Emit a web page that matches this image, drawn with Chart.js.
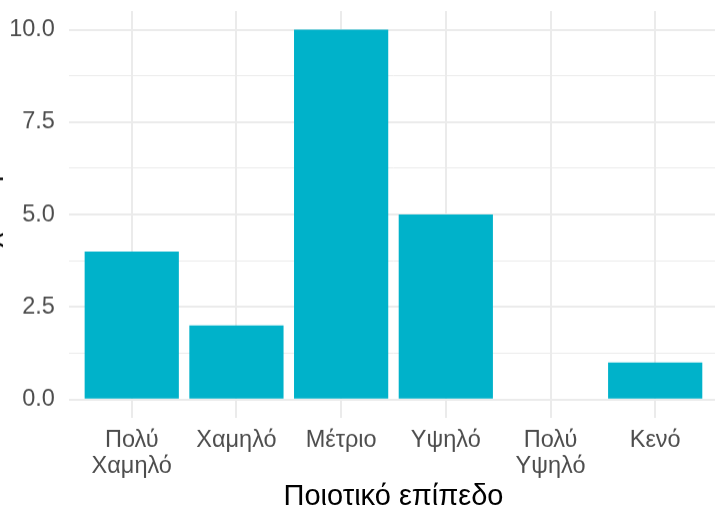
<!DOCTYPE html>
<html>
<head>
<meta charset="utf-8">
<script src="https://cdn.jsdelivr.net/npm/chart.js@4/dist/chart.umd.min.js"></script>
<style>
  html, body { margin: 0; padding: 0; background: #fff; overflow: hidden; }
  #wrap { position: absolute; left: -28px; top: -16.6px; width: 746px; height: 527.9px; }
</style>
</head>
<body>
<div id="wrap"><canvas id="qualityChart"></canvas></div>
<script>
const categories = [['Πολύ', 'Χαμηλό'], 'Χαμηλό', 'Μέτριο', 'Υψηλό', ['Πολύ', 'Υψηλό'], 'Κενό'];
const counts = [4, 2, 10, 5, 0, 1];
const yTicks = [0, 1.25, 2.5, 3.75, 5, 6.25, 7.5, 8.75, 10];

const isMajor = (v) => Math.abs(v / 2.5 - Math.round(v / 2.5)) < 1e-6;

new Chart(document.getElementById('qualityChart'), {
  type: 'bar',
  data: {
    datasets: [{
      label: 'Συχνότητα',
      data: counts.map((v, i) => ({ x: i, y: v })),
      backgroundColor: '#00b2ca',
      borderWidth: 0,
      barPercentage: 0.9,
      categoryPercentage: 1.0,
    }],
  },
  options: {
    responsive: true,
    maintainAspectRatio: false,
    animation: false,
    layout: { padding: 0 },
    plugins: { legend: { display: false }, tooltip: { enabled: false } },
    scales: {
      x: {
        type: 'linear',
        offset: false,
        min: -0.6,
        max: 5.6,
        afterBuildTicks: (axis) => { axis.ticks = categories.map((c, i) => ({ value: i })); },
        grid: { color: '#ebebeb', lineWidth: 2, drawTicks: false, offset: false },
        border: { display: false },
        ticks: {
          autoSkip: false,
          maxRotation: 0,
          padding: 9.5,
          color: '#4d4d4d',
          font: { family: 'Liberation Sans', size: 23.5, lineHeight: 1.1 },
          callback: (v) => categories[v],
        },
        title: {
          display: true,
          text: 'Ποιοτικό επίπεδο',
          color: '#000',
          font: { family: 'Liberation Sans', size: 29, lineHeight: 1.0 },
          padding: { top: -5.9, bottom: 0 },
        },
      },
      y: {
        min: -0.5,
        max: 10.5,
        afterBuildTicks: (axis) => { axis.ticks = yTicks.map((v) => ({ value: v })); },
        grid: {
          color: '#ebebeb',
          lineWidth: (ctx) => (isMajor(ctx.tick.value) ? 2 : 1),
          drawTicks: false,
        },
        border: { display: false },
        ticks: {
          padding: 14,
          color: '#4d4d4d',
          font: { family: 'Liberation Sans', size: 23.5 },
          callback: (v) => (isMajor(v) ? v.toFixed(1) : ''),
        },
        title: {
          display: true,
          text: 'Συχνότητα',
          color: '#000',
          font: { family: 'Liberation Sans', size: 28.5, lineHeight: 1.2 },
          padding: { top: 0, bottom: -11 },
        },
      },
    },
  },
});
</script>
</body>
</html>
